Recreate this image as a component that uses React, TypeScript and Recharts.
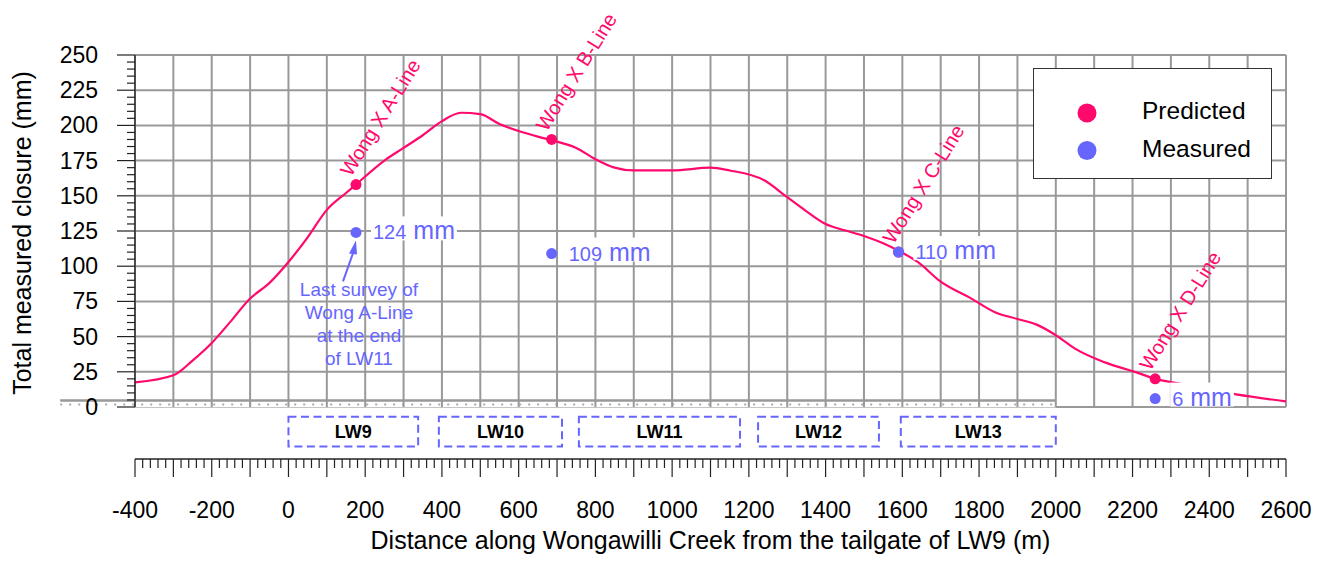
import React from 'react';
import { ComposedChart, Line, Scatter, XAxis, YAxis, CartesianGrid, ReferenceArea, ReferenceLine, Legend } from 'recharts';

const FONT = '"Liberation Sans", Arial, Helvetica, sans-serif';
const PINK = '#FF0A6C';
const BLUE = '#6666FF';
const GRID = '#999';

// predicted closure profile along the creek (m, mm)
const curveDistance = [
  -400, -300, -250, -200, -150, -100, -50, 0, 50, 100, 150, 176, 250, 300, 350, 400, 450, 500,
  550, 600, 650, 686, 750, 800, 850, 900, 1000, 1100, 1150, 1240, 1300, 1350, 1400, 1450, 1500,
  1550, 1590, 1640, 1700, 1780, 1840, 1900, 1950, 2000, 2050, 2130, 2210, 2259, 2320, 2470, 2600,
];
const curveClosure = [
  17.5, 22.5, 33, 45.5, 61, 77, 88, 103, 120.5, 140, 152, 158, 175, 184, 193, 203, 209, 208,
  201, 196, 192, 189.5, 184, 176, 170, 168, 168, 170, 168, 161, 149, 139, 130, 125.5, 121.5,
  116.3, 111, 103, 89, 77, 67.5, 62.5, 58.5, 51, 41.5, 31.5, 24.6, 20, 16.8, 9, 4,
];

// survey lines crossing the creek
const siteNames = ['Wong X A-Line', 'Wong X B-Line', 'Wong X C-Line', 'Wong X D-Line'];
const siteDistance = [176, 686, 1590, 2259];
const predictedClosure = [158, 190, 110, 20];
const measuredClosure = [124, 109, 110, 6];
const measuredNote = [['Last survey of', 'Wong A-Line', 'at the end', 'of LW11'], [], [], []];

// longwall panels
const panelNames = ['LW9', 'LW10', 'LW11', 'LW12', 'LW13'];
const panelStart = [0, 392, 757, 1224, 1596];
const panelEnd = [338, 713, 1177, 1539, 2000];

const closureTicks = [0, 25, 50, 75, 100, 125, 150, 175, 200, 225, 250];
const distanceTicks = [-400, -200, 0, 200, 400, 600, 800, 1000, 1200, 1400, 1600, 1800, 2000, 2200, 2400, 2600];

const gridX = Array.from({ length: 31 }, (_, i) => -400 + i * 100);
const rulerTicks = Array.from({ length: 151 }, (_, i) => -400 + i * 20);
const minorY = Array.from({ length: 51 }, (_, i) => i * 5);

const curveData = curveDistance.map((x, i) => ({ x, y: curveClosure[i] }));
const predictedData = siteDistance.map((x, i) => ({ x, y: predictedClosure[i], name: siteNames[i] }));
const measuredData = siteDistance.map((x, i) => ({ x, y: measuredClosure[i], note: measuredNote[i] }));

const YTick = (props: any) => {
  const { x, y, payload } = props;
  const v = payload.value;
  const major = v % 25 === 0;
  return (
    <g>
      <line x1={x - (major ? 18 : 8)} x2={x} y1={y} y2={y} stroke="#222" strokeWidth={1.2} />
      {major && (
        <text x={x - 37} y={y + 8} textAnchor="end" fontSize={23} fontFamily={FONT} fill="#000">
          {v}
        </text>
      )}
    </g>
  );
};

const RulerTick = (props: any) => {
  const { x, y, payload } = props;
  const v = payload.value;
  const major = v % 100 === 0;
  return (
    <g>
      <line x1={x} x2={x} y1={y} y2={y + (major ? 18 : 9)} stroke="#222" strokeWidth={1.2} />
      {distanceTicks.includes(v) && (
        <text x={x} y={y + 59} textAnchor="middle" fontSize={23} fontFamily={FONT} fill="#000">
          {v}
        </text>
      )}
    </g>
  );
};

const XTitle = (props: any) => {
  const vb = props.viewBox;
  return (
    <text x={vb.x + vb.width / 2} y={vb.y + 90} textAnchor="middle" fontSize={25} fontFamily={FONT} fill="#000">
      Distance along Wongawilli Creek from the tailgate of LW9 (m)
    </text>
  );
};

const YTitle = (props: any) => {
  const vb = props.viewBox;
  const cx = vb.x + 15;
  const cy = vb.y + vb.height / 2 + 2;
  return (
    <text transform={`translate(${cx},${cy}) rotate(-90)`} textAnchor="middle" dy={8} fontSize={25} fontFamily={FONT} fill="#000">
      Total measured closure (mm)
    </text>
  );
};

const PredictedMark = (p: any) => (
  <g>
    <circle cx={p.cx} cy={p.cy} r={5.5} fill={PINK} />
    <text transform={`translate(${p.cx - 5},${p.cy - 7}) rotate(-58)`} fontSize={20} fontFamily={FONT} fill={PINK}>
      {p.payload.name}
    </text>
  </g>
);

const MeasuredMark = (p: any) => {
  const num = String(p.payload.y);
  const w = num.length * 0.556 * 20 + 0.278 * 25 + 1.666 * 25;
  const tx = p.cx + 17;
  const ty = p.cy + 7;
  const note: string[] = p.payload.note || [];
  return (
    <g>
      <rect x={tx - 2} y={ty - 23} width={w + 4} height={24} fill="#fff" />
      <circle cx={p.cx} cy={p.cy} r={5.5} fill={BLUE} />
      <text x={tx} y={ty} fontFamily={FONT} fill={BLUE}>
        <tspan fontSize={20}>{num}</tspan>
        <tspan fontSize={25}> mm</tspan>
      </text>
      {note.length > 0 && (
        <g>
          <line x1={p.cx - 13} y1={p.cy + 49} x2={p.cx - 2} y2={p.cy + 18} stroke={BLUE} strokeWidth={2} />
          <polygon
            points={`${p.cx},${p.cy + 8} ${p.cx - 7},${p.cy + 21} ${p.cx + 1},${p.cy + 22}`}
            fill={BLUE}
          />
          {note.map((line, i) => (
            <text key={i} x={p.cx + 3} y={p.cy + 64 + i * 23} textAnchor="middle" fontSize={19} fontFamily={FONT} fill={BLUE}>
              {line}
            </text>
          ))}
        </g>
      )}
    </g>
  );
};

const ZeroBand = (p: any) => (
  <g>
    <rect x={p.x} y={p.y} width={p.width} height={p.height} fill="#fff" />
    <line x1={p.x} x2={p.x + p.width} y1={p.y} y2={p.y} stroke="#999" strokeWidth={2.5} />
    <line x1={p.x} x2={p.x + p.width} y1={p.y + 4} y2={p.y + 4} stroke="#aaa" strokeWidth={2} strokeDasharray="2 7" />
  </g>
);

const LegendBox = () => (
  <div style={{ width: 239, height: 111, border: '1.5px solid #333', background: '#fff', boxSizing: 'border-box' }}>
    <svg width={236} height={108}>
      <circle cx={53} cy={44} r={9.5} fill={PINK} />
      <circle cx={53} cy={81.5} r={9.5} fill={BLUE} />
      <text x={108} y={50} fontSize={24.5} fontFamily={FONT} fill="#000">Predicted</text>
      <text x={108} y={88} fontSize={24.5} fontFamily={FONT} fill="#000">Measured</text>
    </svg>
  </div>
);

export default function App() {
  return (
    <div style={{ width: 1312, height: 546, fontFamily: FONT }}>
      <ComposedChart width={1312} height={546} margin={{ top: 47, right: 34, bottom: 0, left: 0 }}>
        <CartesianGrid stroke={GRID} strokeWidth={2} vertical={false} horizontalValues={closureTicks} />
        {gridX.map((v) => (
          <ReferenceLine key={v} x={v} stroke={GRID} strokeWidth={2} />
        ))}
        <XAxis
          dataKey="x"
          type="number"
          domain={[-400, 2600]}
          ticks={gridX}
          allowDataOverflow
          height={52}
          tick={false}
          tickLine={false}
          axisLine={false}
        />
        <XAxis
          xAxisId="ruler"
          dataKey="x"
          type="number"
          domain={[-400, 2600]}
          allowDataOverflow
          ticks={rulerTicks}
          interval={0}
          height={95}
          tickSize={0}
          tickMargin={0}
          tickLine={false}
          tick={<RulerTick />}
          axisLine={{ stroke: '#222', strokeWidth: 1.3 }}
          label={<XTitle />}
        />
        <YAxis
          type="number"
          domain={[0, 250]}
          ticks={minorY}
          interval={0}
          width={127}
          tickSize={0}
          tickMargin={0}
          tickLine={false}
          tick={<YTick />}
          axisLine={{ stroke: '#222', strokeWidth: 1.3 }}
          label={<YTitle />}
        />
        <ReferenceArea x1={-595} x2={panelEnd[panelEnd.length - 1]} y1={-0.3} y2={4.6} ifOverflow="visible" shape={<ZeroBand />} />
        {panelNames.map((name, i) => (
          <ReferenceArea
            key={name}
            x1={panelStart[i]}
            x2={panelEnd[i]}
            y1={-7}
            y2={-28}
            ifOverflow="visible"
            fill="none"
            stroke={BLUE}
            strokeWidth={2}
            strokeDasharray="8 4.5"
            label={{ value: name, position: 'center', fontSize: 18, fontWeight: 'bold', fill: '#000', fontFamily: FONT }}
          />
        ))}
        <Line data={curveData} dataKey="y" type="monotone" stroke={PINK} strokeWidth={2.2} dot={false} isAnimationActive={false} />
        <Scatter data={predictedData} dataKey="y" shape={<PredictedMark />} isAnimationActive={false} />
        <Scatter data={measuredData} dataKey="y" shape={<MeasuredMark />} isAnimationActive={false} />
        <Legend
          layout="vertical"
          align="center"
          verticalAlign="middle"
          wrapperStyle={{ left: 1025, top: 60, width: 239, height: 111 }}
          content={() => <LegendBox />}
        />
      </ComposedChart>
    </div>
  );
}
